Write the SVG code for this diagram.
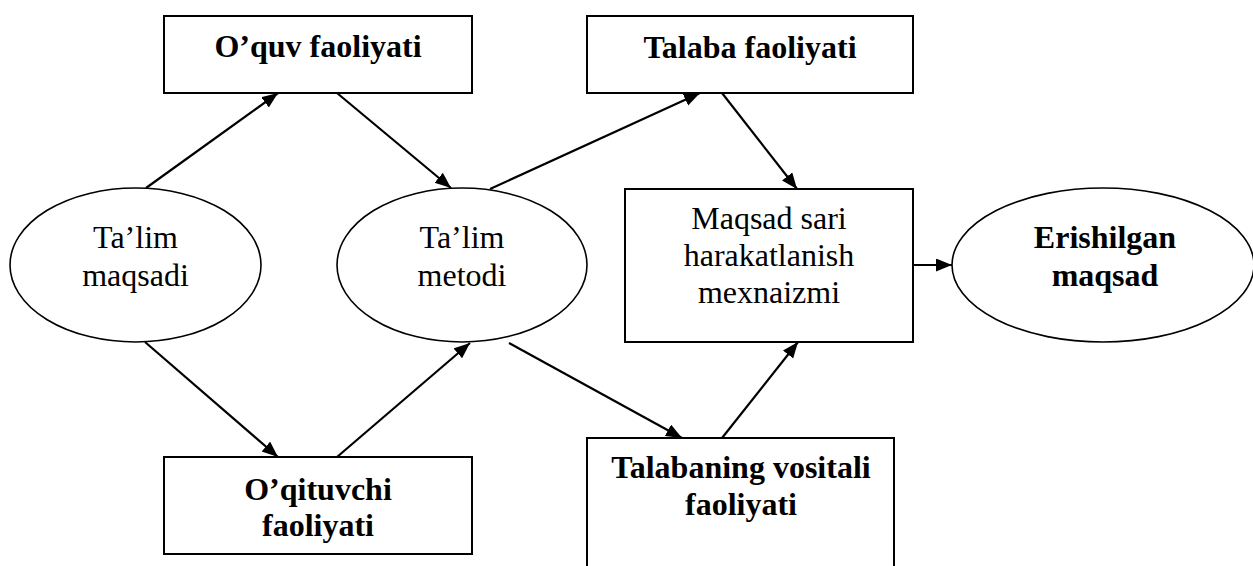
<svg xmlns="http://www.w3.org/2000/svg" width="1253" height="566" viewBox="0 0 1253 566">
<style>
.box{fill:#fff;stroke:#000;stroke-width:2}
.ell{fill:#fff;stroke:#000;stroke-width:1.6}
text{font-family:'Liberation Serif','Times New Roman',Times,'DejaVu Serif','Noto Serif','FreeSerif',serif;font-size:32px;fill:#000;text-anchor:middle}
.b{font-weight:bold}
.c{stroke:#000;stroke-width:2.2;fill:none;marker-end:url(#ah)}
</style>
<defs>
<marker id="ah" markerUnits="userSpaceOnUse" markerWidth="18" markerHeight="14" refX="16" refY="6.5" orient="auto">
<path d="M0,0 L16,6.5 L0,13 z" fill="#000"/>
</marker>
</defs>
<rect width="1253" height="566" fill="#fff"/>
<g id="n-oquv"><rect class="box" x="164" y="16" width="308" height="77"/><text class="b" x="318" y="57">O’quv faoliyati</text></g>
<g id="n-talaba"><rect class="box" x="587" y="16" width="326" height="77"/><text class="b" x="750" y="58">Talaba faoliyati</text></g>
<g id="n-maqsadi"><ellipse class="ell" cx="135.5" cy="265" rx="125.5" ry="77"/><text x="135.5" y="248">Ta’lim</text><text x="135.5" y="286">maqsadi</text></g>
<g id="n-metodi"><ellipse class="ell" cx="462" cy="265" rx="125" ry="77"/><text x="462" y="248">Ta’lim</text><text x="462" y="286">metodi</text></g>
<g id="n-mexanizm"><rect class="box" x="625" y="189" width="288" height="153"/><text x="769" y="229">Maqsad sari</text><text x="769" y="266">harakatlanish</text><text x="769" y="303">mexnaizmi</text></g>
<g id="n-erishilgan"><ellipse class="ell" cx="1103" cy="265" rx="151" ry="77"/><text class="b" x="1105" y="248">Erishilgan</text><text class="b" x="1105" y="286">maqsad</text></g>
<g id="n-oqituvchi"><rect class="box" x="164" y="457" width="308" height="97"/><text class="b" x="318" y="500">O’qituvchi</text><text class="b" x="318" y="536">faoliyati</text></g>
<g id="n-vositali"><rect class="box" x="587" y="438" width="307" height="150"/><text class="b" x="741" y="478">Talabaning vositali</text><text class="b" x="741" y="515">faoliyati</text></g>
<g id="connectors">
<line class="c" x1="146" y1="188" x2="278" y2="93"/>
<line class="c" x1="337" y1="93" x2="451" y2="188"/>
<line class="c" x1="490" y1="189" x2="700" y2="93"/>
<line class="c" x1="722" y1="93" x2="797" y2="189"/>
<line class="c" x1="145" y1="342" x2="278" y2="457"/>
<line class="c" x1="337" y1="457" x2="470" y2="343"/>
<line class="c" x1="509" y1="343" x2="682" y2="438"/>
<line class="c" x1="722" y1="438" x2="798" y2="342"/>
<line class="c" x1="913" y1="265" x2="952" y2="265"/>
</g>
</svg>
